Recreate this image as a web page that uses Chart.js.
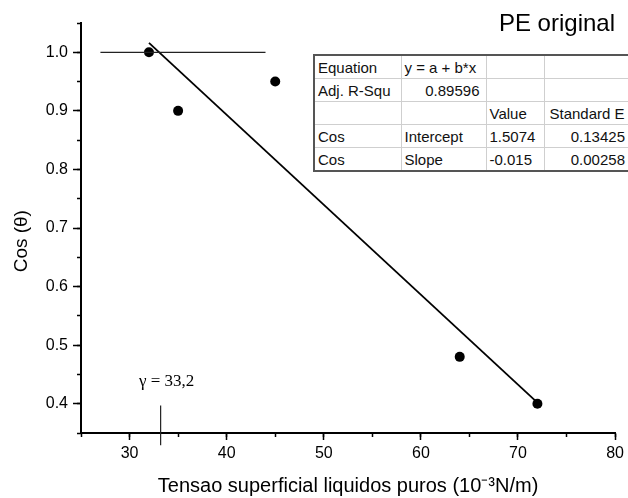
<!DOCTYPE html>
<html>
<head>
<meta charset="utf-8">
<script src="https://cdn.jsdelivr.net/npm/chart.js@4.4.1/dist/chart.umd.min.js"></script>
<style>
  html, body { margin: 0; padding: 0; background: #fff; overflow: hidden; }
  #wrap { position: relative; width: 628px; height: 498px; overflow: hidden; }
  #plot { position: absolute; left: 0; top: 0; }
  #label { position: absolute; right: 13px; top: 9px; font: 24px "Liberation Sans", Arial, sans-serif; color: #000; }
  #fit { position: absolute; left: 313px; top: 54px; width: 324px; border-collapse: collapse; table-layout: fixed;
         border: 2px solid #555; background: #fff; font: 15px "Liberation Sans", Arial, sans-serif; color: #111; }
  #fit td { border: 1px solid #cfcfcf; height: 22px; padding: 0 3px; white-space: nowrap; overflow: hidden; }
  #fit td.num { text-align: right; padding-right: 6px; }
  #fit td.num3 { text-align: right; padding-right: 13px; }
  #fit td.num4 { text-align: right; padding-right: 12px; }
  #fit td.std { padding-left: 5px; }
</style>
</head>
<body>
<div id="wrap">
  <canvas id="plot" width="628" height="498"></canvas>
  <div id="label">PE original</div>
  <table id="fit">
    <colgroup><col style="width:87px"><col style="width:85px"><col style="width:58px"><col style="width:94px"></colgroup>
    <tr><td>Equation</td><td>y = a + b*x</td><td></td><td></td></tr>
    <tr><td>Adj. R-Squ</td><td class="num">0.89596</td><td></td><td></td></tr>
    <tr><td></td><td></td><td>Value</td><td class="std">Standard E</td></tr>
    <tr><td>Cos</td><td>Intercept</td><td class="num3">1.5074</td><td class="num4">0.13425</td></tr>
    <tr><td>Cos</td><td>Slope</td><td class="num3">-0.015</td><td class="num4">0.00258</td></tr>
  </table>
</div>
<script>
// measured points
const surfaceTension = [32, 35, 45, 64, 72];
const cosTheta = [1.0, 0.9, 0.95, 0.48, 0.40];

// linear fit y = a + b*x, drawn between first and last point
const fitX = [32, 72];
const fitY = [1.016, 0.402];

// horizontal guide at cos = 1
const refX = [27, 44];
const refY = [1.0, 1.0];

// critical tension marker
const gammaX = [33.2, 33.2];
const gammaY = [0.397, 0.329];

// ticks
const xTicks = [30, 40, 50, 60, 70, 80];
const xMinorTicks = [25, 30, 35, 40, 45, 50, 55, 60, 65, 70, 75, 80];
const yTicks = [0.4, 0.5, 0.6, 0.7, 0.8, 0.9, 1.0];
const yMinorTicks = [0.35, 0.4, 0.45, 0.5, 0.55, 0.6, 0.65, 0.7, 0.75, 0.8, 0.85, 0.9, 0.95, 1.0, 1.05];

Chart.defaults.font.family = '"Liberation Sans", Arial, sans-serif';
Chart.defaults.color = '#000';

const toPoints = (xs, ys) => xs.map((v, i) => ({x: v, y: ys[i]}));
const setTicks = arr => scale => { scale.ticks = arr.map(v => ({value: v})); };

const gammaLabel = {
  id: 'gammaLabel',
  afterDatasetsDraw(chart) {
    const {ctx, scales: {x, y}} = chart;
    ctx.save();
    ctx.font = '17px "Liberation Serif", "Times New Roman", serif';
    ctx.fillStyle = '#000';
    ctx.textAlign = 'center';
    ctx.textBaseline = 'alphabetic';
    ctx.fillText('γ = 33,2', x.getPixelForValue(gammaX[0]) + 6, y.getPixelForValue(0.43));
    ctx.restore();
  }
};

new Chart(document.getElementById('plot'), {
  type: 'scatter',
  data: {
    datasets: [
      {
        data: toPoints(refX, refY),
        showLine: true,
        borderColor: '#222',
        borderWidth: 1.2,
        pointRadius: 0
      },
      {
        data: toPoints(gammaX, gammaY),
        showLine: true,
        borderColor: '#222',
        borderWidth: 1.2,
        pointRadius: 0,
        clip: false
      },
      {
        data: toPoints(fitX, fitY),
        showLine: true,
        borderColor: '#000',
        borderWidth: 1.8,
        pointRadius: 0
      },
      {
        data: toPoints(surfaceTension, cosTheta),
        showLine: false,
        backgroundColor: '#000',
        borderColor: '#000',
        pointRadius: 5,
        pointBorderWidth: 0
      }
    ]
  },
  options: {
    responsive: false,
    animation: false,
    events: [],
    layout: { padding: { left: 0, top: 23, right: 10, bottom: 0 } },
    plugins: { legend: { display: false }, tooltip: { enabled: false } },
    scales: {
      x: {
        type: 'linear', position: 'bottom', min: 25, max: 80, weight: 1,
        afterBuildTicks: setTicks(xTicks),
        afterFit: s => { s.height = 65; },
        border: { display: true, color: '#000', width: 2 },
        grid: { drawOnChartArea: false, drawTicks: true, tickLength: 7, tickWidth: 1.5, tickColor: '#000' },
        ticks: { font: { size: 16 }, padding: 4, maxRotation: 0, callback: v => String(v) },
        title: { display: true, text: 'Tensao superficial liquidos puros (10⁻³N/m)', font: { size: 20 }, padding: { top: 0, bottom: 0 } }
      },
      xm: {
        type: 'linear', position: 'bottom', min: 25, max: 80, weight: 0,
        afterBuildTicks: setTicks(xMinorTicks),
        afterFit: s => { s.height = 0; },
        border: { display: false },
        grid: { drawOnChartArea: false, drawTicks: true, tickLength: 4, tickWidth: 1.5, tickColor: '#000' },
        ticks: { display: false }
      },
      y: {
        type: 'linear', position: 'left', min: 0.35, max: 1.05, weight: 1,
        afterBuildTicks: setTicks(yTicks),
        afterFit: s => { s.width = 81; },
        border: { display: true, color: '#000', width: 2 },
        grid: { drawOnChartArea: false, drawTicks: true, tickLength: 8, tickWidth: 1.5, tickColor: '#000' },
        ticks: { font: { size: 16 }, padding: 5, callback: v => v.toFixed(1) },
        // trailing spaces push the rotated label a little lower, as in the original
        title: { display: true, text: 'Cos (θ)\u00a0\u00a0\u00a0\u00a0\u00a0', font: { size: 19 }, padding: { top: 10, bottom: 0 } }
      },
      ym: {
        type: 'linear', position: 'left', min: 0.35, max: 1.05, weight: 0,
        afterBuildTicks: setTicks(yMinorTicks),
        afterFit: s => { s.width = 0; },
        border: { display: false },
        grid: { drawOnChartArea: false, drawTicks: true, tickLength: 4, tickWidth: 1.5, tickColor: '#000' },
        ticks: { display: false }
      }
    }
  },
  plugins: [gammaLabel]
});
</script>
</body>
</html>
